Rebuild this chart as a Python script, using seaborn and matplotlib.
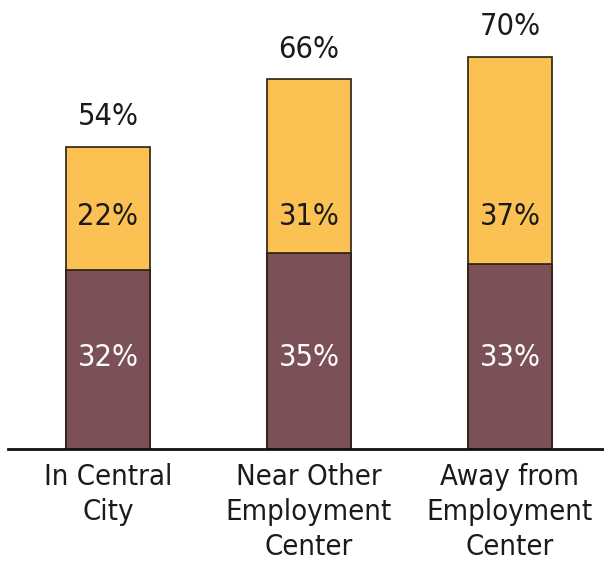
import pandas as pd
import seaborn as sns
import matplotlib.pyplot as plt

# data
categories = ["In Central\nCity", "Near Other\nEmployment\nCenter", "Away from\nEmployment\nCenter"]
bottom_vals = [32, 35, 33]
top_vals = [22, 31, 37]
totals = [b + t for b, t in zip(bottom_vals, top_vals)]

df = pd.DataFrame({"categoria": categories, "base": bottom_vals, "topo": top_vals, "total": totals})

sns.set_style("white")
plt.rcParams["font.family"] = ["DejaVu Sans"]
plt.rcParams["font.stretch"] = "condensed"

fig = plt.figure(figsize=(6.04, 5.66), dpi=100)
ax = fig.add_axes([8 / 604, 117 / 566, 596 / 604, 449 / 566])

cor_topo = "#FBC152"
cor_base = "#7B5057"
borda = "#2b1d18"

# total bar (orange) then the bottom part over it
sns.barplot(data=df, x="categoria", y="total", color=cor_topo, width=0.42,
            edgecolor=borda, linewidth=1.2, saturation=1, ax=ax)
sns.barplot(data=df, x="categoria", y="base", color=cor_base, width=0.42,
            edgecolor=borda, linewidth=1.2, saturation=1, ax=ax)

# inner labels sit at a common height in the original
y_rotulo_base = 16.4
y_rotulo_topo = 41.5
fs = 22
for i, row in df.iterrows():
    ax.text(i, y_rotulo_base, f"{row['base']}%", ha="center", va="center",
            color="white", fontsize=fs, fontstretch="condensed")
    ax.text(i, y_rotulo_topo, f"{row['topo']}%", ha="center", va="center",
            color="#1a1a1a", fontsize=fs, fontstretch="condensed")
    ax.text(i, row["total"] + 5.4, f"{row['total']}%", ha="center", va="center",
            color="#1a1a1a", fontsize=fs, fontstretch="condensed")

ax.set_xlim(-0.4975, 2.468)
ax.set_ylim(0, 80.2)
ax.set_xlabel("")
ax.set_ylabel("")
ax.set_yticks([])
ax.tick_params(axis="x", length=0, pad=10, labelsize=21, labelcolor="#1a1a1a")
for lbl in ax.get_xticklabels():
    lbl.set_linespacing(1.33)
    lbl.set_fontstretch("condensed")
for s in ["top", "right", "left"]:
    ax.spines[s].set_visible(False)
ax.spines["bottom"].set_color("#111111")
ax.spines["bottom"].set_linewidth(2)

fig.savefig("out.png", dpi=100)
